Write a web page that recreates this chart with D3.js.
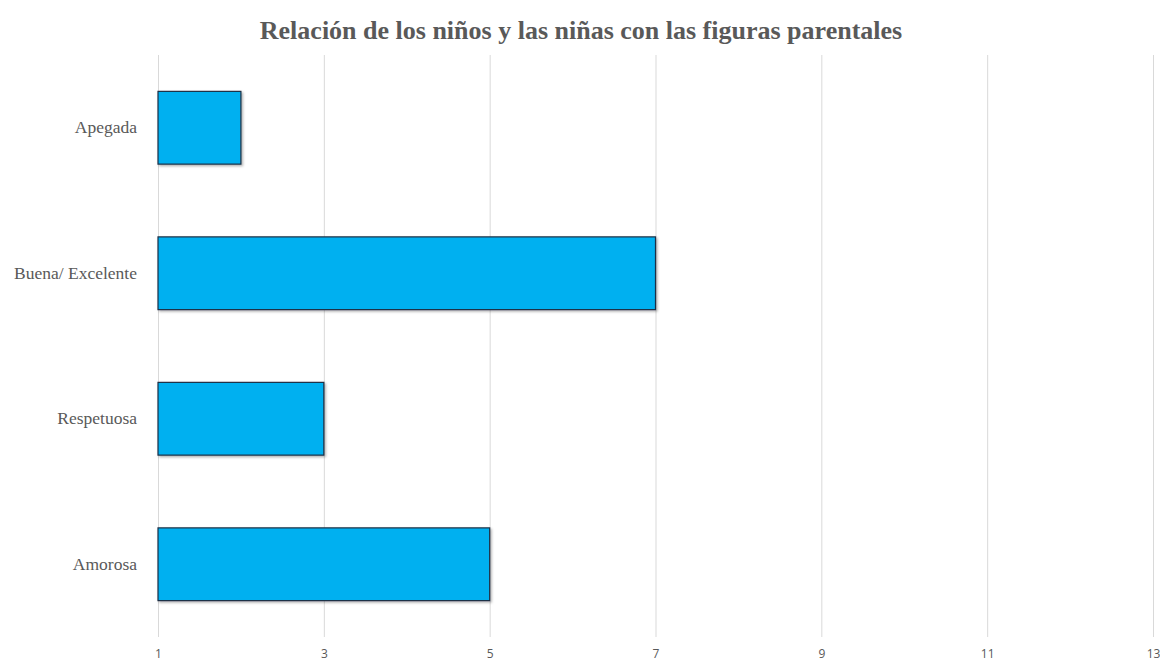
<!DOCTYPE html>
<html>
<head>
<meta charset="utf-8">
<script src="https://cdn.jsdelivr.net/npm/d3@7"></script>
<style>
  html, body { margin: 0; padding: 0; background: #ffffff; }
  svg { display: block; }
</style>
</head>
<body>
<svg id="chart" width="1160" height="662"></svg>
<script>
// Relationship categories (top to bottom) and their counts
const categories = ["Apegada", "Buena/ Excelente", "Respetuosa", "Amorosa"];
const counts = [2, 7, 3, 5];
const tickValues = [1, 3, 5, 7, 9, 11, 13];
const title = "Relación de los niños y las niñas con las figuras parentales";

const svg = d3.select("#chart");
const W = 1160, H = 662;
const margin = { top: 55, right: 7, bottom: 25, left: 158 };

const x = d3.scaleLinear().domain([1, 13]).range([margin.left, W - margin.right]);
const y = d3.scaleBand().domain(categories).range([margin.top, H - margin.bottom]).paddingInner(0.5).paddingOuter(0.25);

const data = categories.map((c, i) => ({ cat: c, value: counts[i] }));

// drop shadow for bars
const defs = svg.append("defs");
const f = defs.append("filter").attr("id", "shadow").attr("x", "-5%").attr("y", "-10%").attr("width", "115%").attr("height", "130%");
f.append("feDropShadow").attr("dx", 1.5).attr("dy", 1.5).attr("stdDeviation", 1.2).attr("flood-color", "#000").attr("flood-opacity", 0.3);

// title
svg.append("text")
  .attr("x", 581).attr("y", 39)
  .attr("text-anchor", "middle")
  .attr("font-family", "'Liberation Serif', 'Times New Roman', serif")
  .attr("font-weight", "bold")
  .attr("font-size", 26)
  .attr("fill", "#595959")
  .text(title);

// vertical gridlines
const xAxis = d3.axisBottom(x).tickValues(tickValues).tickSize(-(H - margin.bottom - margin.top));
const gx = svg.append("g").attr("transform", `translate(0,${H - margin.bottom})`).call(xAxis);
gx.select(".domain").remove();
gx.selectAll(".tick line").attr("stroke", "#d9d9d9").attr("stroke-width", 1);
gx.selectAll(".tick text")
  .attr("y", 21)
  .attr("dy", 0)
  .attr("font-family", "'Open Sans', 'DejaVu Sans', sans-serif")
  .attr("font-size", 12)
  .attr("fill", "#595959");

// category labels
const yAxis = d3.axisLeft(y).tickSize(0).tickPadding(21);
const gy = svg.append("g").attr("transform", `translate(${margin.left},0)`).call(yAxis);
gy.select(".domain").remove();
gy.selectAll(".tick text")
  .attr("font-family", "'Liberation Serif', 'Times New Roman', serif")
  .attr("font-size", 17.5)
  .attr("fill", "#595959");

// bars
svg.append("g").selectAll("rect").data(data).join("rect")
  .attr("x", x(1))
  .attr("y", d => y(d.cat))
  .attr("width", d => x(d.value) - x(1))
  .attr("height", y.bandwidth())
  .attr("fill", "#00B0F0")
  .attr("stroke", "#1b2f45")
  .attr("stroke-width", 1.2)
  .attr("filter", "url(#shadow)");
</script>
</body>
</html>
